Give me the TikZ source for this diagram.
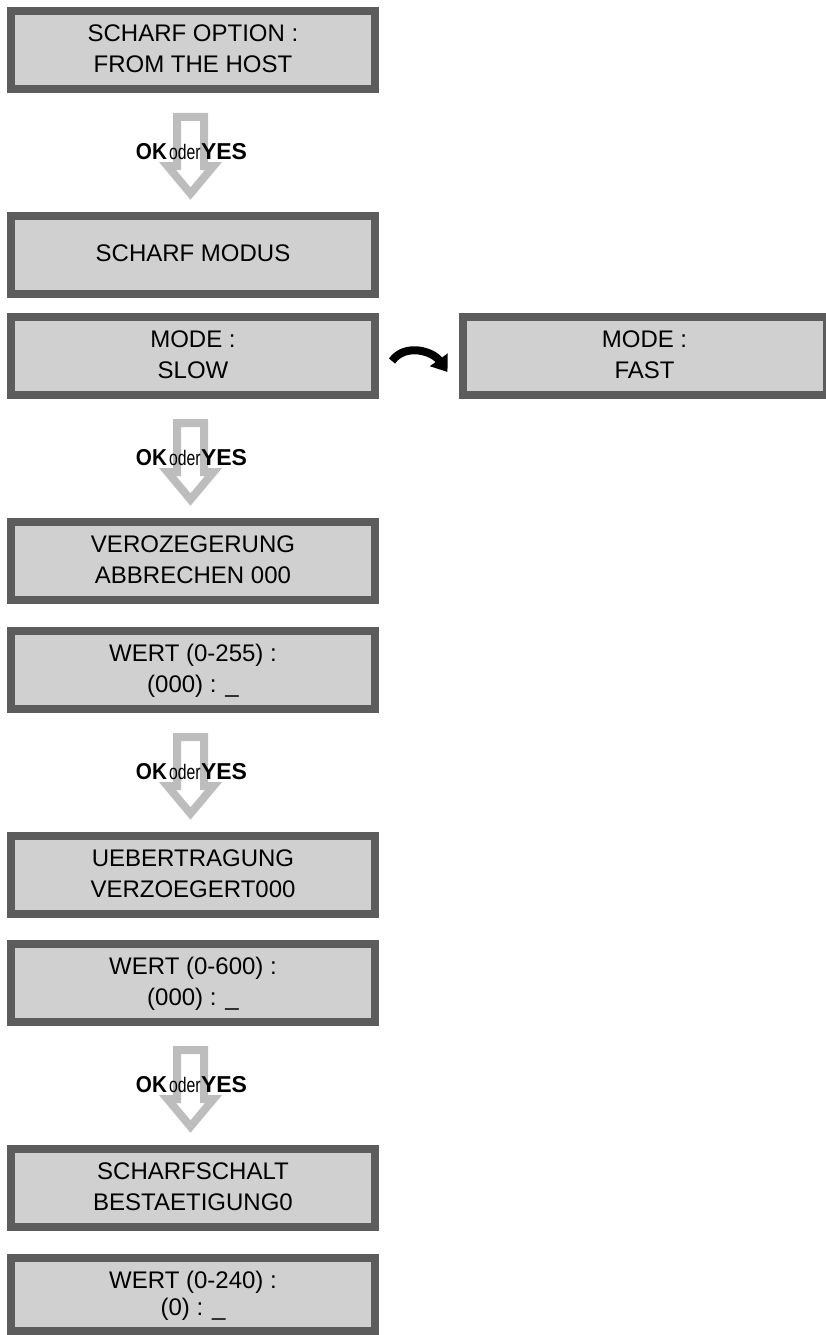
\documentclass[tikz,border=0pt]{standalone}
\usepackage{fontspec}
\setmainfont{Liberation Sans}
\usepackage{graphicx}
\usetikzlibrary{calc,arrows.meta}
\definecolor{lcdfill}{HTML}{D0D0D0}
\definecolor{lcdborder}{HTML}{5C5C5C}
\definecolor{arrowgray}{HTML}{BDBDBD}
\newcommand\lcdstrut{\rule[-6pt]{0pt}{26pt}}
\tikzset{
  lcd/.style={draw=lcdborder, fill=lcdfill, line width=8pt, minimum width=364pt,
    minimum height=78pt, inner sep=0pt, align=center, text=black,
    font=\fontsize{24}{31}\selectfont},
  lcdlast/.style={lcd, minimum height=73pt, font=\fontsize{24}{27}\selectfont},
  okline/.style={draw=arrowgray, line width=8pt, line join=miter},
  oktext/.style={anchor=base, inner sep=0pt, text=black, font=\fontsize{23}{24}\selectfont},
  swaparrow/.style={draw=black, line width=8pt, line cap=butt,
    -{Triangle[length=15pt,width=21pt]}},
  pics/okarrow/.style={code={
    \draw[okline] (-13.5,4) -- (13.5,4) -- (13.5,53) -- (23,53) -- (0,80.5)
      -- (-23,53) -- (-13.5,53) -- cycle;
    \node[oktext] (-t) at (1,46) {\scalebox{0.9}[1]{\textbf{OK}}\kern2pt\scalebox{0.75}[1]{\fontsize{21}{22}\selectfont oder}\kern0.5pt\textbf{YES}};
  }}
}
\begin{document}
\begin{tikzpicture}[x=1pt,y=-1pt]
\useasboundingbox (0,0) rectangle (826,1335);
\node[lcd] (b1) at (193,50) {\lcdstrut SCHARF OPTION :\\\lcdstrut FROM THE HOST};
\node[lcd] (b2) at (193,254.5) {\lcdstrut SCHARF MODUS};
\node[lcd] (b3) at (193,356) {\lcdstrut MODE :\\\lcdstrut SLOW};
\node[lcd] (fast) at (644.5,356) {\lcdstrut MODE :\\\lcdstrut FAST};
\node[lcd] (b4) at (193,560.5) {\lcdstrut VEROZEGERUNG\\\lcdstrut ABBRECHEN 000};
\node[lcd] (b5) at (193,670) {\lcdstrut WERT (0-255) :\\\lcdstrut (000) : \_};
\node[lcd] (b6) at (193,874.5) {\lcdstrut UEBERTRAGUNG\\\lcdstrut VERZOEGERT000};
\node[lcd] (b7) at (193,983) {\lcdstrut WERT (0-600) :\\\lcdstrut (000) : \_};
\node[lcd] (b8) at (193,1188) {\lcdstrut SCHARFSCHALT\\\lcdstrut BESTAETIGUNG0};
\node[lcdlast] (b9) at (193,1294.5) {\lcdstrut WERT (0-240) :\\\lcdstrut (0) : \_};

\pic (a1) at ($(b1.south)+(-2.5,20)$) {okarrow};
\pic (a2) at ($(b3.south)+(-2.5,20)$) {okarrow};
\pic (a3) at ($(b5.south)+(-2.5,20)$) {okarrow};
\pic (a4) at ($(b7.south)+(-2.5,20)$) {okarrow};

\draw[swaparrow] ($(b3.east)+(13,5)$) .. controls +(13,-18) and +(-15,-21) .. ($(fast.west)+(-11,16)$);
\end{tikzpicture}
\end{document}
